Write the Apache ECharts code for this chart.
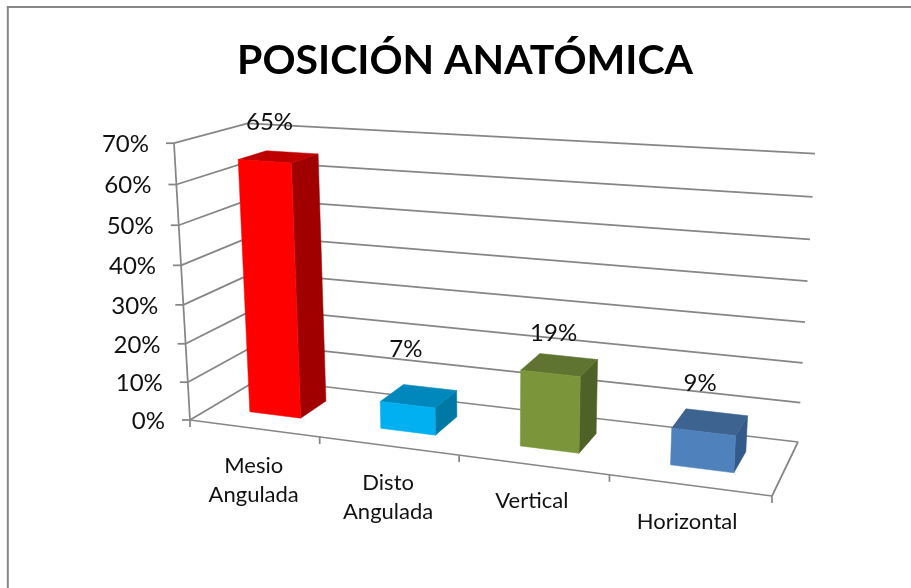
<!DOCTYPE html>
<html><head><meta charset="utf-8">
<style>html,body{margin:0;padding:0;background:#fff}#c{width:911px;height:588px}</style>
<script src="https://cdn.jsdelivr.net/npm/echarts@6/dist/echarts.min.js"></script>
</head><body><div id="c"></div>
<script>
// ---- data ----
var categories = ['Mesio\nAngulada', 'Disto\nAngulada', 'Vertical', 'Horizontal'];
var values = [65, 7, 19, 9];
var valueTicks = [0, 10, 20, 30, 40, 50, 60, 70];
var titleText = 'POSICIÓN ANATÓMICA';

// ---- styling ----
var faceColors = ['#FF0000', '#00B0F0', '#7B963A', '#4F81BD'];
var topColors  = ['#BE0000', '#0088BC', '#5E7430', '#3D6390'];
var sideColors = ['#A00000', '#0078A4', '#4E6126', '#335A88'];
var lineColor = '#868686';
var font = 'Lato';

// ---- perspective layout: floor of the 3D box on the page and the vertical vanishing point ----
var floorQuad = [[190,420],[772,496],[798,442],[259,379]];
var vanish = [492,5646];
var lift = -0.0503;
var liftTaper = 0.012;
var barDepth = [0.3, 0.7];
var barFill = 0.4;
var barShift = 2.5;
var labelNudge = [[-9,-34],[-13,-47],[-6,-32],[-10,-39]];
var catNudge = [[0,52],[0,52],[-1,36],[-2,37]];

function floorHomography(q) {
  var x0=q[0][0],y0=q[0][1],x1=q[1][0],y1=q[1][1],x2=q[2][0],y2=q[2][1],x3=q[3][0],y3=q[3][1];
  var dx1=x1-x2,dx2=x3-x2,sx=x0-x1+x2-x3,dy1=y1-y2,dy2=y3-y2,sy=y0-y1+y2-y3;
  var den=dx1*dy2-dx2*dy1, g=(sx*dy2-dx2*sy)/den, h=(dx1*sy-sx*dy1)/den;
  var a=x1-x0+g*x1,b=x3-x0+h*x3,c=x0,d=y1-y0+g*y1,e=y3-y0+h*y3,f=y0;
  return function(u,v){return [a*u+b*v+c, d*u+e*v+f, g*u+h*v+1];};
}
var floorMap = floorHomography(floorQuad);
var GRID = {left:100, top:100, width:700, height:300};

// u,s come from the axes' own pixel positions; depth is the third dimension
function project(px, depth) {
  var u = (px[0]-GRID.left)/GRID.width;
  var s = (GRID.top+GRID.height-px[1])/GRID.height;
  var p = floorMap(u,depth);
  var t = lift*s*(1-liftTaper*u);
  var w = p[2]+t;
  return [(p[0]+t*vanish[0])/w, (p[1]+t*vanish[1])/w];
}
function line(a,b,w){return {type:'line',shape:{x1:a[0],y1:a[1],x2:b[0],y2:b[1]},style:{stroke:lineColor,lineWidth:w||1.75},silent:true};}
function poly(points,fill){return {type:'polygon',shape:{points:points},style:{fill:fill,stroke:fill,lineWidth:0.5}};}
function text(t,x,y,size,align){return {type:'text',style:{text:t,x:x,y:y,fill:'#111',font:size+'px '+font,align:align||'center',verticalAlign:'middle',lineHeight:Math.round(size*1.32)}};}

function renderWall(params, api) {
  var band = api.size([1,0])[0];
  var children = [];
  function at(edge,v,d){ return project([GRID.left+edge*GRID.width, api.coord([0,v])[1]], d); }
  valueTicks.forEach(function(v){
    var a=at(0,v,0), b=at(0,v,1), c=at(1,v,1);
    children.push(line(a,b), line(b,c), line([a[0]-8,a[1]],a));
    children.push(text(v+'%', a[0]-25, a[1]+1, 24, 'right'));
  });
  children.push(line(at(0,0,0),at(0,70,0)));
  var f0=at(0,0,0), f1=at(1,0,0), b1=at(1,0,1);
  children.push(line(f0,f1), line(f1,b1));
  categories.forEach(function(c,i){
    var cx = api.coord([i,0]);
    var edge = project([cx[0]-band/2,cx[1]],0);
    children.push(line(edge,[edge[0],edge[1]+7]));
    if(i===categories.length-1){var e2=project([cx[0]+band/2,cx[1]],0);children.push(line(e2,[e2[0],e2[1]+7]));}
    var m = project(cx,0);
    children.push(text(c, m[0]+catNudge[i][0], m[1]+catNudge[i][1], 22));
  });
  return {type:'group',children:children};
}

function renderBar(params, api) {
  var i = api.value(0), v = api.value(1);
  var c = api.coord([i,v]), c0 = api.coord([i,0]);
  var hw = api.size([1,0])[0]*barFill/2;
  var d0=barDepth[0], d1=barDepth[1];
  function P(x,y,d){return project([x,y],d);}
  var X=c[0]+(i===0?1:barShift), L=X-hw, R=X+hw, T=c[1], B=c0[1];
  var center = P(X,T,(d0+d1)/2);
  return {type:'group',children:[
    poly([P(R,B,d0),P(R,B,d1),P(R,T,d1),P(R,T,d0)],sideColors[i]),
    poly([P(L,T,d0),P(R,T,d0),P(R,T,d1),P(L,T,d1)],topColors[i]),
    poly([P(L,B,d0),P(R,B,d0),P(R,T,d0),P(L,T,d0)],faceColors[i]),
    text(v+'%',center[0]+labelNudge[i][0],center[1]+labelNudge[i][1],24)
  ]};
}

var chart = echarts.init(document.getElementById('c'),null,{renderer:'canvas'});
chart.setOption({
  animation:false,
  backgroundColor:'#fff',
  title:{text:titleText,left:460,top:35,textAlign:'center',textStyle:{fontFamily:font,fontWeight:'bold',fontSize:41,color:'#000'}},
  grid:GRID,
  xAxis:{type:'category',data:categories,show:false},
  yAxis:{type:'value',min:0,max:70,interval:10,show:false},
  graphic:[
    {type:'line',shape:{x1:7.8,y1:6,x2:7.8,y2:588},style:{stroke:lineColor,lineWidth:2},silent:true},
    {type:'line',shape:{x1:7,y1:7,x2:911,y2:7},style:{stroke:lineColor,lineWidth:2},silent:true}
  ],
  series:[
    {type:'custom',renderItem:renderWall,data:[[0,0]],silent:true,clip:false,z:1,encode:{x:0,y:1}},
    {type:'custom',renderItem:renderBar,data:values.map(function(v,i){return [i,v];}),clip:false,z:2,encode:{x:0,y:1}}
  ]
});
</script></body></html>
